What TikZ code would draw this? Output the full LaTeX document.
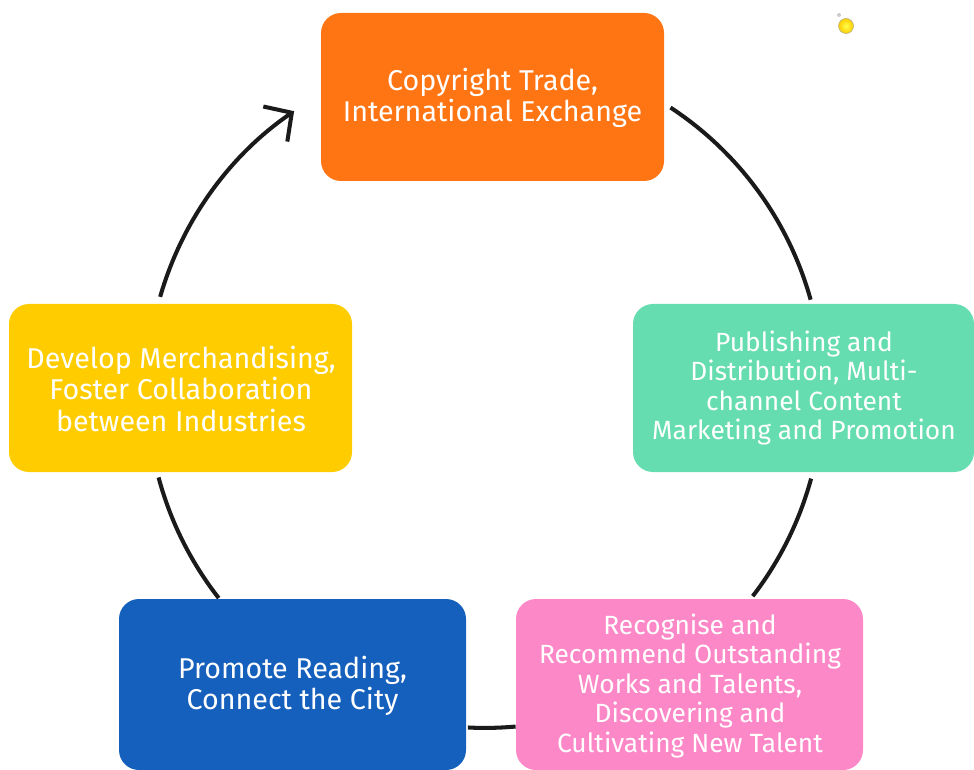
\documentclass[tikz,border=0pt]{standalone}
\usepackage{fontspec}
\setmainfont{Fira Sans}
\usetikzlibrary{arrows.meta,calc}
\definecolor{cOrange}{HTML}{FF7514}
\definecolor{cGreen}{HTML}{66DDB0}
\definecolor{cPink}{HTML}{FC88C8}
\definecolor{cBlue}{HTML}{1560BD}
\definecolor{cYellow}{HTML}{FFCC00}
\definecolor{cLine}{HTML}{1A1A1A}
\begin{document}
\begin{tikzpicture}[x=0.02cm,y=-0.02cm,
  stage/.style={rounded corners=0.4cm, text=white, align=center, inner sep=0pt,
    font=\fontsize{16.3}{18}\selectfont},
  stagesmall/.style={stage, font=\fontsize{15}{16.8}\selectfont},
  ring/.style={line width=2.3pt, draw=cLine}]
\useasboundingbox (0,0) rectangle (974,770);
% stage boxes
\fill[cOrange, rounded corners=0.4cm] (321,13) rectangle (664,181);
\node[stage] (trade) at (492.5,98) {Copyright Trade,\\International Exchange};
\fill[cGreen, rounded corners=0.4cm] (633,304) rectangle (974,472);
\node[stagesmall] (publish) at (804,388) {Publishing and\\Distribution, Multi-\\channel Content\\Marketing and Promotion};
\fill[cPink, rounded corners=0.4cm] (516,599) rectangle (863,770);
\node[stagesmall] (talent) at (690,686) {Recognise and\\Recommend Outstanding\\Works and Talents,\\Discovering and\\Cultivating New Talent};
\fill[cBlue, rounded corners=0.4cm] (119,599) rectangle (466,770);
\node[stage] (reading) at (292.5,686) {Promote Reading,\\Connect the City};
\fill[cYellow, rounded corners=0.4cm] (9,304) rectangle (352,472);
\node[stage] (merch) at (181,389) {Develop Merchandising,\\Foster Collaboration\\between Industries};
% cycle arcs around a common centre
\coordinate (ctr) at (485,390);
\def\R{6.76cm}
\coordinate (a1) at ($(ctr)+(56.7:\R)$);
\coordinate (a2) at ($(ctr)+(-15.2:\R)$);
\coordinate (a3) at ($(ctr)+(-84.8:\R)$);
\coordinate (a4) at ($(ctr)+(218:\R)$);
\coordinate (a5) at ($(ctr)+(164:\R)$);
\draw[ring] (a1) arc[start angle=56.7, end angle=15.5, radius=\R];
\draw[ring] (a2) arc[start angle=-15.2, end angle=-37.6, radius=\R];
\draw[ring] (a3) arc[start angle=-84.8, end angle=-92.9, radius=\R];
\draw[ring] (a4) arc[start angle=218, end angle=195, radius=\R];
\draw[ring, -{Straight Barb[length=4mm,width=8.5mm,line cap=butt]}] (a5) arc[start angle=164, end angle=124.4, radius=\R];
% small marker dot
\fill[gray!40] (839,15) circle (2);
\shade[inner color=yellow!70, outer color=yellow!60!orange, draw=yellow!50!black!60] (846,26) circle (7.5);
\end{tikzpicture}
\end{document}
